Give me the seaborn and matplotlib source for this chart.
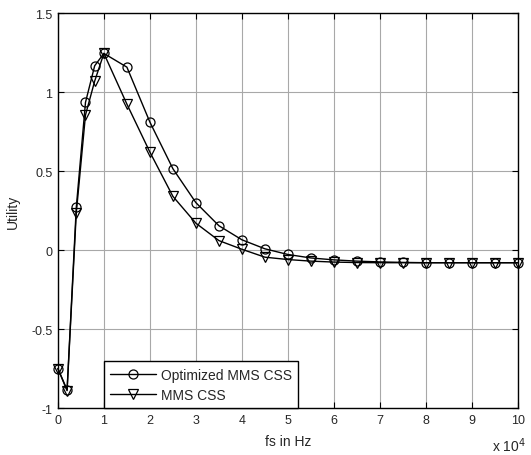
# Utility vs sampling frequency: optimized MMS CSS against plain MMS CSS
import numpy as np
import pandas as pd
import matplotlib
matplotlib.use('Agg')
import matplotlib.pyplot as plt
import seaborn as sns

# Data
fs_hz = [0, 2000, 4000, 6000, 8000, 10000, 15000, 20000, 25000, 30000, 35000, 40000,
         45000, 50000, 55000, 60000, 65000, 70000, 75000, 80000, 85000, 90000, 95000, 100000]
utility_optimized = [-0.75, -0.885, 0.27, 0.935, 1.167, 1.245, 1.158, 0.81, 0.515, 0.30,
                     0.154, 0.065, 0.008, -0.028, -0.05, -0.062, -0.07, -0.075, -0.078,
                     -0.08, -0.08, -0.08, -0.08, -0.08]
utility_mms = [-0.75, -0.89, 0.235, 0.855, 1.07, 1.245, 0.924, 0.62, 0.34, 0.17,
               0.06, 0.005, -0.045, -0.06, -0.07, -0.076, -0.079, -0.08, -0.08,
               -0.08, -0.08, -0.08, -0.08, -0.08]
x_ticks = [0, 1, 2, 3, 4, 5, 6, 7, 8, 9, 10]
y_ticks = [-1, -0.5, 0, 0.5, 1, 1.5]

df = pd.DataFrame({'fs': np.array(fs_hz) / 1e4,
                   'opt': utility_optimized,
                   'mms': utility_mms})

sns.set_style('white')
plt.rcParams['font.family'] = ['Liberation Sans', 'DejaVu Sans']
plt.rcParams['font.size'] = 9

fig = plt.figure(figsize=(5.31, 4.56), dpi=100)
ax = fig.add_axes([0.109, 0.103, 0.8665, 0.866])

sns.lineplot(data=df, x='fs', y='opt', ax=ax, color='black', lw=1,
             marker='o', markersize=6.5, markerfacecolor='none',
             markeredgecolor='black', markeredgewidth=0.9,
             label='Optimized MMS CSS', clip_on=False, zorder=3)
sns.lineplot(data=df, x='fs', y='mms', ax=ax, color='black', lw=1,
             marker='v', markersize=7.5, markerfacecolor='none',
             markeredgecolor='black', markeredgewidth=0.9,
             label='MMS CSS', clip_on=False, zorder=3)

ax.set_xlim(0, 10)
ax.set_ylim(-1, 1.5)
ax.set_xticks(x_ticks)
ax.set_yticks(y_ticks)
ax.set_xticklabels([str(t) for t in x_ticks])
ax.set_yticklabels([f'{t:g}' for t in y_ticks])
ax.grid(True, color='#a8a8a8', lw=0.8)
ax.set_axisbelow(True)
ax.tick_params(direction='in', length=4, color='black', labelsize=9, pad=4,
               top=True, right=True, bottom=True, left=True)
for s in ax.spines.values():
    s.set_visible(True)
    s.set_color('black')
    s.set_linewidth(1)
    s.set_zorder(4)

ax.set_xlabel('fs in Hz', fontsize=10, labelpad=6)
ax.set_ylabel('Utility', fontsize=10, labelpad=8)
fig.text(492 / 531, 0.002, r'x 10$^4$', ha='left', va='bottom', fontsize=10)

leg = ax.legend(loc='lower left', bbox_to_anchor=(0.1, 0.0), fontsize=10,
                handlelength=3.3, handletextpad=0.35, borderaxespad=0,
                fancybox=False, framealpha=1, edgecolor='black',
                borderpad=0.45, labelspacing=0.45)
leg.get_frame().set_linewidth(1)
leg.set_zorder(5)

fig.savefig('out.png', dpi=100)
